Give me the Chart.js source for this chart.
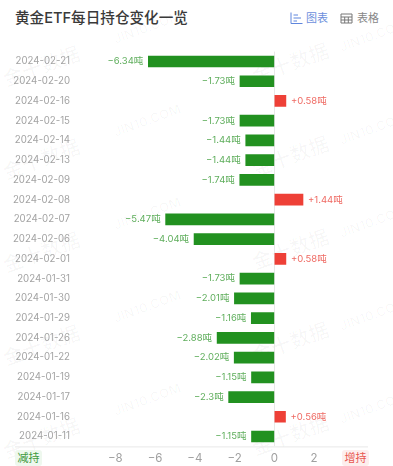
<!DOCTYPE html>
<html>
<head>
<meta charset="utf-8">
<script src="https://cdn.jsdelivr.net/npm/chart.js@4/dist/chart.umd.min.js"></script>
<style>
  body { margin: 0; background: #fff; font-family: Inter, "Noto Sans CJK SC", sans-serif; }
  #page { position: relative; width: 393px; height: 466px; overflow: hidden; }
  #page canvas { position: absolute; left: 0; top: 0; }
  h1 { position: absolute; left: 15px; top: 7px; margin: 0; font-size: 14.6px; line-height: 22px; font-weight: 500; color: #3a3a3a; white-space: nowrap; }
  .tab { position: absolute; top: 10px; font-size: 11px; line-height: 16px; white-space: nowrap; }
  .tab svg { position: absolute; top: 2px; }
  .side { position: absolute; top: 450px; width: 27px; height: 16px; line-height: 16px; font-size: 11px; text-align: center; border-radius: 3px; }
  .wm { position: absolute; transform: translate(-50%, -50%) rotate(-20deg); color: rgba(0,0,0,0.028); font-weight: 700; white-space: nowrap; }
</style>
</head>
<body>
<div id="page">
  <h1>黄金ETF每日持仓变化一览</h1>
  <div class="tab" style="left:306px;color:#6d8fdc">图表
    <svg style="left:-16px" width="13" height="13" viewBox="0 0 13 13" fill="none" stroke="#5f86dd"><path d="M1 0.5V11.5H12.5M3.5 3H8M3.5 6H11M3.5 9H7"/></svg>
  </div>
  <div class="tab" style="left:357px;color:#888">表格
    <svg style="left:-17px" width="13" height="13" viewBox="0 0 13 13" fill="none" stroke="#777"><path d="M1 2H12V11H1ZM1 5H12M1 8H12M4.7 5V11M8.3 5V11"/></svg>
  </div>
  <div class="side" style="left:15px;color:#3f9a3d;background:#eef8ee">减持</div>
  <div class="side" style="left:342px;color:#e8574f;background:#fdeeed">增持</div>
  <canvas id="chart" width="393" height="466"></canvas>
</div>
<script>
// dades llegides de la imatge
const dates = ['2024-02-21', '2024-02-20', '2024-02-16', '2024-02-15', '2024-02-14', '2024-02-13', '2024-02-09', '2024-02-08', '2024-02-07', '2024-02-06',
  '2024-02-01', '2024-01-31', '2024-01-30', '2024-01-29', '2024-01-26', '2024-01-22', '2024-01-19', '2024-01-17', '2024-01-16', '2024-01-11'];
const changes = [-6.34, -1.73, 0.58, -1.73, -1.44, -1.44, -1.74, 1.44, -5.47, -4.04,
  0.58, -1.73, -2.01, -1.16, -2.88, -2.02, -1.15, -2.3, 0.56, -1.15];
const xTicks = [-8, -6, -4, -2, 0, 2];

const GREEN = '#229120';
const RED = '#ee4037';
const fontFamily = 'Inter, "Noto Sans CJK SC", sans-serif';

// marca d'aigua
const page = document.getElementById('page');
function addWatermark(text, x, y, size) {
  const d = document.createElement('div');
  d.className = 'wm';
  d.textContent = text;
  d.style.left = x + 'px';
  d.style.top = y + 'px';
  d.style.fontSize = size + 'px';
  page.insertBefore(d, page.firstChild);
}
for (let i = 0; i < 5; i++) {
  const dy = i * 93;
  addWatermark('金十数据', 41, 65 + dy, 20);
  addWatermark('金十数据', 290, 62 + dy, 20);
  addWatermark('JIN10.COM', 147, 27 + dy, 13);
  addWatermark('JIN10.COM', 373, 35 + dy, 13);
}

// etiquetes de valor i línia de base
const barLabels = {
  id: 'barLabels',
  afterDatasetsDraw(chart) {
    const { ctx, chartArea } = chart;
    ctx.save();
    ctx.strokeStyle = '#e8e8e8';
    ctx.beginPath();
    ctx.moveTo(15, chartArea.bottom + 0.5);
    ctx.lineTo(chartArea.right, chartArea.bottom + 0.5);
    ctx.stroke();

    ctx.font = '9.5px ' + fontFamily;
    ctx.textBaseline = 'middle';
    chart.getDatasetMeta(0).data.forEach((bar, i) => {
      const v = changes[i];
      const txt = (v < 0 ? '−' : '+') + Math.abs(v) + '吨';
      ctx.fillStyle = v < 0 ? '#5fae5c' : '#ef6a63';
      ctx.textAlign = v < 0 ? 'right' : 'left';
      ctx.fillText(txt, bar.x + (v < 0 ? -5 : 5), bar.y);
    });
    ctx.restore();
  }
};

new Chart(document.getElementById('chart').getContext('2d'), {
  type: 'bar',
  data: {
    labels: dates,
    datasets: [{
      data: changes,
      backgroundColor: changes.map(v => v < 0 ? GREEN : RED),
      barThickness: 11
    }]
  },
  plugins: [barLabels],
  options: {
    indexAxis: 'y',
    responsive: false,
    animation: false,
    layout: { padding: { top: 51.6, right: 25 } },
    plugins: { legend: { display: false }, tooltip: { enabled: false } },
    scales: {
      x: {
        min: -10.23,
        max: 4.71,
        afterBuildTicks: axis => { axis.ticks = xTicks.map(v => ({ value: v })); },
        afterFit: axis => { axis.height = 19.6; },
        border: { display: false },
        grid: { drawTicks: false, color: c => c.tick && c.tick.value === 0 ? '#e8e8e8' : 'transparent' },
        ticks: {
          padding: 5,
          maxRotation: 0,
          color: '#a0a0a0',
          font: { size: 11.5, family: fontFamily },
          callback: v => (v < 0 ? '−' + Math.abs(v) : String(v))
        }
      },
      y: {
        afterFit: axis => { axis.width = 71; },
        border: { display: false },
        grid: { display: false, drawTicks: false },
        ticks: {
          padding: 1,
          autoSkip: false,
          color: '#a3a3a3',
          font: { size: 9.7, family: fontFamily }
        }
      }
    }
  }
});
</script>
</body>
</html>
